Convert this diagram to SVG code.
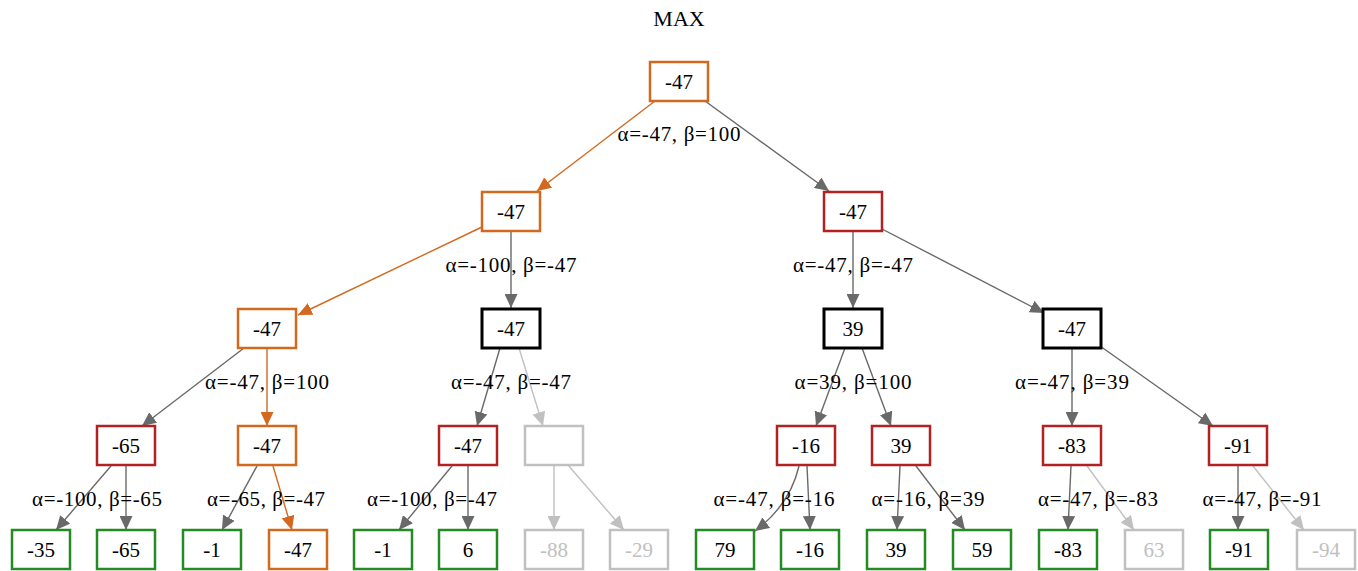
<svg xmlns="http://www.w3.org/2000/svg" width="1358" height="571" viewBox="0 0 1358 571">
<style>
text{font-family:"Liberation Serif","Times New Roman",serif;font-size:21px;fill:#000;text-anchor:middle}
.title{font-size:22px}
rect{fill:#fff;stroke-width:2.5}
.o rect{stroke:#d2691e}
.r rect{stroke:#b22222}
.g rect{stroke:#228b22}
.k rect{stroke:#000;stroke-width:3}
.s rect{stroke:#c0c0c0}
.s text{fill:#c0c0c0}
.e{fill:none;stroke-width:1.4}
.eg{stroke:#696969}
.eo{stroke:#d2691e}
.es{stroke:#c0c0c0}
</style>
<defs>
<marker id="ag" markerUnits="userSpaceOnUse" markerWidth="15" markerHeight="13" refX="14" refY="6.5" orient="auto"><path d="M0,0 L14,6.5 L0,13 Z" fill="#696969"/></marker>
<marker id="ao" markerUnits="userSpaceOnUse" markerWidth="15" markerHeight="13" refX="14" refY="6.5" orient="auto"><path d="M0,0 L14,6.5 L0,13 Z" fill="#d2691e"/></marker>
<marker id="as" markerUnits="userSpaceOnUse" markerWidth="15" markerHeight="13" refX="14" refY="6.5" orient="auto"><path d="M0,0 L14,6.5 L0,13 Z" fill="#c0c0c0"/></marker>
</defs>
<text class="title" x="679" y="26">MAX</text>
<g id="connectors">
<path class="e eo" d="M655,101 L537,191" marker-end="url(#ao)"/>
<path class="e eg" d="M705,101 L829,191" marker-end="url(#ag)"/>
<path class="e eo" d="M482,227 L298,315" marker-end="url(#ao)"/>
<path class="e eg" d="M511,231 L511,308" marker-end="url(#ag)"/>
<path class="e eg" d="M853,231 L853,308" marker-end="url(#ag)"/>
<path class="e eg" d="M882,229 L1044,313" marker-end="url(#ag)"/>
<path class="e eg" d="M244,348 L142,426" marker-end="url(#ag)"/>
<path class="e eo" d="M267,348 L267,426" marker-end="url(#ao)"/>
<path class="e eg" d="M500,348 L477,426" marker-end="url(#ag)"/>
<path class="e es" d="M519,348 L543,426" marker-end="url(#as)"/>
<path class="e eg" d="M845,348 L816,426" marker-end="url(#ag)"/>
<path class="e eg" d="M862,348 L891,426" marker-end="url(#ag)"/>
<path class="e eg" d="M1072,348 L1072,426" marker-end="url(#ag)"/>
<path class="e eg" d="M1100,346 L1213,426" marker-end="url(#ag)"/>
<path class="e eg" d="M111,466 L56,530" marker-end="url(#ag)"/>
<path class="e eg" d="M126,466 L126,530" marker-end="url(#ag)"/>
<path class="e eg" d="M257,466 L222,530" marker-end="url(#ag)"/>
<path class="e eo" d="M273,466 L292,530" marker-end="url(#ao)"/>
<path class="e eg" d="M452,466 L399,530" marker-end="url(#ag)"/>
<path class="e eg" d="M468,466 L468,530" marker-end="url(#ag)"/>
<path class="e es" d="M554,465 L554,530" marker-end="url(#as)"/>
<path class="e es" d="M568,465 L624,530" marker-end="url(#as)"/>
<path class="e eg" d="M799,466 Q790,505 755,531" marker-end="url(#ag)"/>
<path class="e eg" d="M807,466 L810,530" marker-end="url(#ag)"/>
<path class="e eg" d="M900,466 L897,530" marker-end="url(#ag)"/>
<path class="e eg" d="M916,466 L965,530" marker-end="url(#ag)"/>
<path class="e eg" d="M1071,466 L1068,530" marker-end="url(#ag)"/>
<path class="e es" d="M1087,466 L1134,530" marker-end="url(#as)"/>
<path class="e eg" d="M1238,466 L1238,530" marker-end="url(#ag)"/>
<path class="e es" d="M1253,466 L1304,530" marker-end="url(#as)"/>
<text x="679" y="141" textLength="123" lengthAdjust="spacing">α=-47, β=100</text>
<text x="511" y="272" textLength="131" lengthAdjust="spacing">α=-100, β=-47</text>
<text x="853" y="272" textLength="120" lengthAdjust="spacing">α=-47, β=-47</text>
<text x="267" y="389" textLength="124" lengthAdjust="spacing">α=-47, β=100</text>
<text x="511" y="389" textLength="120" lengthAdjust="spacing">α=-47, β=-47</text>
<text x="853" y="389" textLength="117" lengthAdjust="spacing">α=39, β=100</text>
<text x="1072" y="389" textLength="114" lengthAdjust="spacing">α=-47, β=39</text>
<text x="97" y="506" textLength="130" lengthAdjust="spacing">α=-100, β=-65</text>
<text x="266" y="506" textLength="118" lengthAdjust="spacing">α=-65, β=-47</text>
<text x="432" y="506" textLength="130" lengthAdjust="spacing">α=-100, β=-47</text>
<text x="774" y="506" textLength="121" lengthAdjust="spacing">α=-47, β=-16</text>
<text x="928" y="506" textLength="113" lengthAdjust="spacing">α=-16, β=39</text>
<text x="1098" y="506" textLength="120" lengthAdjust="spacing">α=-47, β=-83</text>
<text x="1262" y="506" textLength="119" lengthAdjust="spacing">α=-47, β=-91</text>
</g>
<g id="n0" class="o"><rect x="650" y="62" width="58" height="39"/><text x="679" y="89">-47</text></g>
<g id="n1" class="o"><rect x="482" y="192" width="58" height="39"/><text x="511" y="219">-47</text></g>
<g id="n2" class="r"><rect x="824" y="192" width="58" height="39"/><text x="853" y="219">-47</text></g>
<g id="n3" class="o"><rect x="238" y="309" width="58" height="39"/><text x="267" y="336">-47</text></g>
<g id="n4" class="k"><rect x="482" y="309" width="58" height="39"/><text x="511" y="336">-47</text></g>
<g id="n5" class="k"><rect x="824" y="309" width="58" height="39"/><text x="853" y="336">39</text></g>
<g id="n6" class="k"><rect x="1043" y="309" width="58" height="39"/><text x="1072" y="336">-47</text></g>
<g id="n7" class="r"><rect x="97" y="426" width="58" height="39"/><text x="126" y="453">-65</text></g>
<g id="n8" class="o"><rect x="238" y="426" width="58" height="39"/><text x="267" y="453">-47</text></g>
<g id="n9" class="r"><rect x="439" y="426" width="58" height="39"/><text x="468" y="453">-47</text></g>
<g id="n10" class="s"><rect x="525" y="426" width="58" height="39"/></g>
<g id="n11" class="r"><rect x="777" y="426" width="58" height="39"/><text x="806" y="453">-16</text></g>
<g id="n12" class="r"><rect x="872" y="426" width="58" height="39"/><text x="901" y="453">39</text></g>
<g id="n13" class="r"><rect x="1043" y="426" width="58" height="39"/><text x="1072" y="453">-83</text></g>
<g id="n14" class="r"><rect x="1209" y="426" width="58" height="39"/><text x="1238" y="453">-91</text></g>
<g id="n15" class="g"><rect x="12" y="530" width="58" height="39"/><text x="41" y="557">-35</text></g>
<g id="n16" class="g"><rect x="97" y="530" width="58" height="39"/><text x="126" y="557">-65</text></g>
<g id="n17" class="g"><rect x="183" y="530" width="58" height="39"/><text x="212" y="557">-1</text></g>
<g id="n18" class="o"><rect x="269" y="530" width="58" height="39"/><text x="298" y="557">-47</text></g>
<g id="n19" class="g"><rect x="354" y="530" width="58" height="39"/><text x="383" y="557">-1</text></g>
<g id="n20" class="g"><rect x="439" y="530" width="58" height="39"/><text x="468" y="557">6</text></g>
<g id="n21" class="s"><rect x="525" y="530" width="58" height="39"/><text x="554" y="557">-88</text></g>
<g id="n22" class="s"><rect x="610" y="530" width="58" height="39"/><text x="639" y="557">-29</text></g>
<g id="n23" class="g"><rect x="696" y="530" width="58" height="39"/><text x="725" y="557">79</text></g>
<g id="n24" class="g"><rect x="781" y="530" width="58" height="39"/><text x="810" y="557">-16</text></g>
<g id="n25" class="g"><rect x="867" y="530" width="58" height="39"/><text x="896" y="557">39</text></g>
<g id="n26" class="g"><rect x="953" y="530" width="58" height="39"/><text x="982" y="557">59</text></g>
<g id="n27" class="g"><rect x="1039" y="530" width="58" height="39"/><text x="1068" y="557">-83</text></g>
<g id="n28" class="s"><rect x="1125" y="530" width="58" height="39"/><text x="1154" y="557">63</text></g>
<g id="n29" class="g"><rect x="1210" y="530" width="58" height="39"/><text x="1239" y="557">-91</text></g>
<g id="n30" class="s"><rect x="1297" y="530" width="58" height="39"/><text x="1326" y="557">-94</text></g>
</svg>
